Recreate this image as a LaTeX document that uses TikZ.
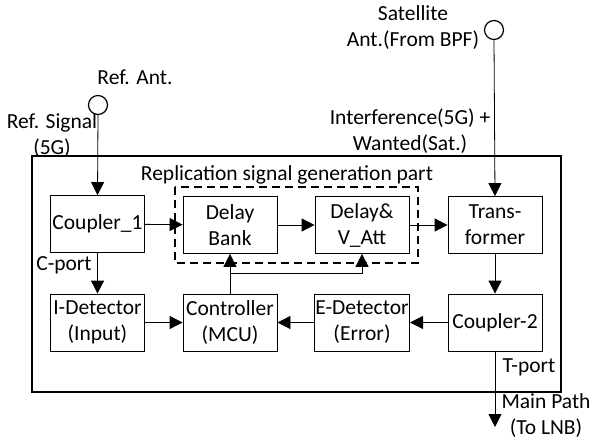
\documentclass[tikz,border=0pt]{standalone}
\usepackage{fontspec}
\setmainfont{Carlito}
\usetikzlibrary{arrows.meta,calc}
\begin{document}
\begin{tikzpicture}[x=1pt,y=-1pt,
  font=\fontsize{21.5}{26}\selectfont,
  blk/.style={draw,line width=0.8pt,minimum width=94pt,minimum height=57pt,align=center,inner sep=1pt},
  arr/.style={line width=0.8pt,-{Triangle[length=13pt,width=13pt]}},
  lbl/.style={align=center,inner sep=0pt},
  ant/.style={draw,circle,line width=1.2pt,minimum size=19pt,inner sep=0pt}]
\useasboundingbox (0,0) rectangle (593,443);
\draw[line width=1.1pt] (32,156) rectangle (561,392);
\draw[line width=1.1pt,dash pattern=on 8pt off 5pt] (175,187) rectangle (418,263);
\node[blk] (c1) at (97.5,224) {Coupler\_1};
\node[blk] (db) at (230,225) {Delay\\Bank};
\node[blk] (va) at (362,225) {Delay\&\\V\_Att};
\node[blk] (tr) at (495,225) {Trans-\\former};
\node[blk] (id) at (97.5,322.5) {I-Detector\\(Input)};
\node[blk] (ct) at (230,322.5) {Controller\\(MCU)};
\node[blk] (ed) at (362,322.5) {E-Detector\\(Error)};
\node[blk] (c2) at (495,322.5) {Coupler-2};
\node[ant] (ra) at (98,105) {};
\node[ant] (sa) at (494,30) {};
\coordinate (out) at (495,427);
\node[lbl] (ral) at (135,77) {Ref. Ant.};
\node[lbl] (rsl) at (52,136) {Ref. Signal\\(5G)};
\node[lbl] (sal) at (413,28) {Satellite\\Ant.(From BPF)};
\node[lbl] (ifl) at (410,131) {Interference(5G) +\\Wanted(Sat.)};
\node[lbl] (rpl) at (287,175) {Replication signal generation part};
\node[lbl] (cpl) at (64,265) {C-port};
\node[lbl] (tpl) at (529,367) {T-port};
\node[lbl] (mpl) at (546,416) {Main Path\\(To LNB)};
\draw[arr] (ra.south) -- (c1.north);
\draw[arr] (sa.south) -- (tr.north);
\draw[arr] (c1) -- (db);
\draw[arr] (db) -- (va);
\draw[arr] (va) -- (tr);
\draw[arr] (tr) -- (c2);
\draw[arr] (c1) -- (id);
\draw[arr] (id) -- (ct);
\draw[arr] (c2) -- (ed);
\draw[arr] (ed) -- (ct);
\draw[arr] (ct.north) -- (db.south);
\draw[arr] ($(ct.north)!0.5!(db.south)$) -| (va.south);
\draw[arr] (c2.south) -- (out);
\end{tikzpicture}
\end{document}
